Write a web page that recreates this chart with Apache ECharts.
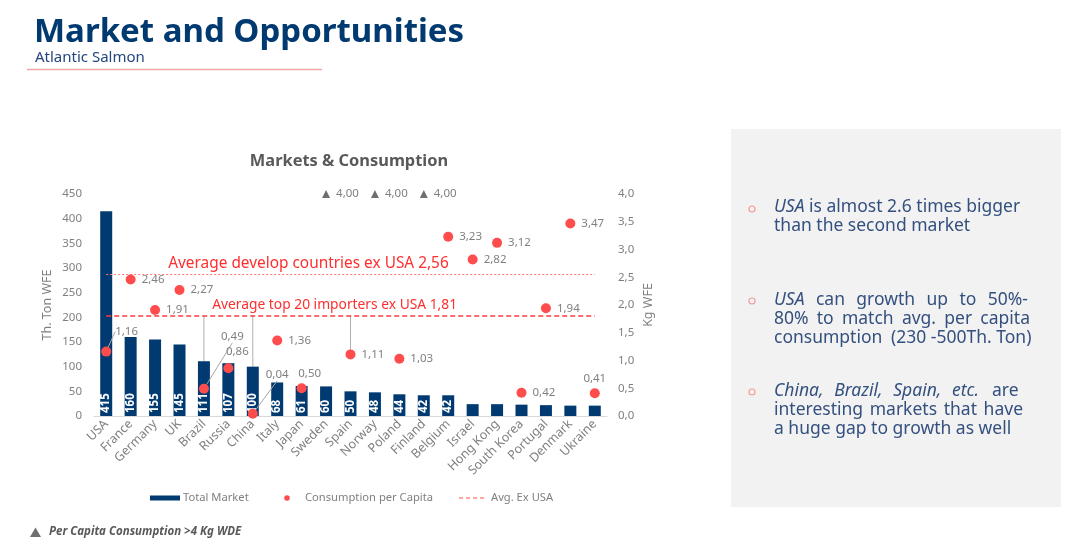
<!DOCTYPE html>
<html><head><meta charset="utf-8">
<script src="https://cdn.jsdelivr.net/npm/echarts@6/dist/echarts.min.js"></script>
<style>html,body{margin:0;padding:0;background:#fff}#c{width:1080px;height:549px}</style>
</head><body><div id="c"></div>
<script>
// ---- data ----
const categories = ['USA','France','Germany','UK','Brazil','Russia','China','Italy','Japan','Sweden','Spain','Norway','Poland','Finland','Belgium','Israel','Hong Kong','South Korea','Portugal','Denmark','Ukraine'];
const totalMarket = [415,160,155,145,111,107,100,68,61,60,50,48,44,42,42,24,24,23,22,21,21];
const perCapita = [1.16,2.46,1.91,2.27,0.49,0.86,0.04,1.36,0.50,4.00,1.11,4.00,1.03,4.00,3.23,2.82,3.12,0.42,1.94,3.47,0.41];
const capValue = 4.00;            // per capita > 4 kg shown as triangles at 4,00
const avgDeveloped = 2.56;
const avgTop20 = 1.81;
const leftAxis = {min: 0, max: 450, interval: 50};
const rightAxis = {min: 0, max: 4, interval: 0.5};
const guideCats = ['USA','Brazil','China','Spain'];   // grey guides down from the 1,81 line
const barLabelMin = 40;

// ---- styles ----
const FONT = 'Noto Sans';
const NAVY = '#003a70';
const RED = '#ff4d4d';
const GREY = '#808080';
const labelTweaks = {
  'USA':    {layout: {dx: -2, dy: -20}, line: true},
  'Brazil': {layout: {dx: 6, dy: -52}, line: true},
  'China':  {layout: {dx: 2, dy: -39}, line: true},
  'Russia': {pos: 'top', layout: {dx: 9, dy: -2}},
  'Japan': {pos: 'top', layout: {dx: 8, dy: 0}},
  'Ukraine': {pos: 'top'}
};
const fmt2 = v => v.toFixed(2).replace('.', ',');

const dotData = perCapita.map((v, i) => {
  if (v >= capValue) return '-';
  const t = labelTweaks[categories[i]] || {};
  const item = {value: v, label: {position: t.pos || 'right', distance: t.pos === 'top' ? 4 : 6}};
  if (t.line) item.labelLine = {show: true, lineStyle: {color: '#a6a6a6', width: 1}};
  return item;
});
const triData = perCapita.map(v => v >= capValue ? v : '-');
const guideData = guideCats.map(c => { const i = categories.indexOf(c); return [i, avgTop20, perCapita[i]]; });
const last = categories.length - 1;

// ---- right panel text with justification ----
const mctx = document.createElement('canvas').getContext('2d');
const PANEL_FONT = {size: 17.5, family: FONT, color: '#34507f'};
function fontStr(it) { return (it ? 'italic ' : '') + PANEL_FONT.size + 'px "' + PANEL_FONT.family + '"'; }
function lineElems(words, x, y, width, justify) {
  const ws = words.map(([t, it]) => { mctx.font = fontStr(it); return mctx.measureText(t).width; });
  mctx.font = fontStr(false);
  const sp = mctx.measureText(' ').width;
  const tot = ws.reduce((a, b) => a + b, 0);
  let gap = (justify && words.length > 1) ? (width - tot) / (words.length - 1) : sp;
  if (gap < sp * 0.6) gap = sp * 0.6;
  let cx = x; const out = [];
  words.forEach(([t, it], k) => {
    out.push({type: 'text', x: cx, y: y, silent: true,
      style: {text: t, fill: PANEL_FONT.color, fontSize: PANEL_FONT.size, fontFamily: PANEL_FONT.family,
        fontStyle: it ? 'italic' : 'normal', textAlign: 'left', textVerticalAlign: 'middle'}});
    cx += ws[k] + gap;
  });
  return out;
}
function W(s, it) { return s.split(' ').filter(Boolean).map(t => [t, !!it]); }
const panelLines = [
  {y: 207, words: [...W('USA', 1), ...W('is almost 2.6 times bigger')], j: false},
  {y: 226, words: W('than the second market'), j: false},
  {y: 300, words: [...W('USA', 1), ...W('can growth up to 50%-')], j: true, w: 254},
  {y: 319, words: W('80% to match avg. per capita'), j: true, w: 256},
  {y: 338, words: W('consumption'), j: false},
  {y: 338, x: 891, words: W('(230 -500Th. Ton)'), j: false},
  {y: 391, words: W('China, Brazil, Spain, etc.', 1), j: true, w: 205},
  {y: 391, x: 992, words: W('are'), j: false},
  {y: 410, words: W('interesting markets that have'), j: true, w: 249},
  {y: 429, words: W('a huge gap to growth as well'), j: false}
];
const panelElems = [];
panelLines.forEach(l => panelElems.push(...lineElems(l.words, l.x || 774, l.y, l.w || 0, l.j)));
[209, 301, 392].forEach(y => panelElems.push({type: 'circle', shape: {cx: 752, cy: y, r: 3}, silent: true,
  style: {fill: 'none', stroke: '#f49a9a', lineWidth: 1.2}}));

const graphics = [
  {type: 'text', x: 34, y: 33, style: {text: 'Market and Opportunities', fill: NAVY, fontSize: 33, fontWeight: 'bold', fontFamily: FONT, textVerticalAlign: 'middle'}},
  {type: 'text', x: 35, y: 58, style: {text: 'Atlantic Salmon', fill: '#25457e', fontSize: 15, fontFamily: FONT, textVerticalAlign: 'middle'}},
  {type: 'line', shape: {x1: 27, y1: 69.5, x2: 322, y2: 69.5}, style: {stroke: '#f4a6a6', lineWidth: 1.5}},
  {type: 'text', x: 349, y: 161, style: {text: 'Markets & Consumption', fill: '#595959', fontSize: 16.4, fontWeight: 'bold', fontFamily: FONT, textAlign: 'center', textVerticalAlign: 'middle'}},
  // legend
  {type: 'rect', shape: {x: 150, y: 495.5, width: 30, height: 5}, style: {fill: NAVY}},
  {type: 'text', x: 183, y: 498, style: {text: 'Total Market', fill: GREY, fontSize: 11.2, fontFamily: FONT, textVerticalAlign: 'middle'}},
  {type: 'circle', shape: {cx: 287, cy: 498, r: 2.8}, style: {fill: RED}},
  {type: 'text', x: 305, y: 498, style: {text: 'Consumption per Capita', fill: GREY, fontSize: 11.2, fontFamily: FONT, textVerticalAlign: 'middle'}},
  {type: 'line', shape: {x1: 459, y1: 498, x2: 487, y2: 498}, style: {stroke: RED, lineWidth: 1.2, lineDash: [4, 3]}},
  {type: 'text', x: 491, y: 498, style: {text: 'Avg. Ex USA', fill: GREY, fontSize: 11.2, fontFamily: FONT, textVerticalAlign: 'middle'}},
  // footnote
  {type: 'polygon', shape: {points: [[30, 537], [35.5, 527.5], [41, 537]]}, style: {fill: '#6f6f6f'}},
  {type: 'text', x: 49, y: 532, style: {text: 'Per Capita Consumption >4 Kg WDE', fill: '#595959', fontSize: 11.5, fontStyle: 'italic', fontWeight: 'bold', fontFamily: FONT, textVerticalAlign: 'middle'}},
  // panel
  {type: 'rect', z: -10, shape: {x: 731, y: 129, width: 330, height: 378}, style: {fill: '#f2f2f2'}},
  ...panelElems
];

function avgSeries(name, value, color, dash, width, text, dist, size) {
  return {name: name, type: 'line', yAxisIndex: 1, data: [], silent: true,
    markLine: {silent: true, symbol: 'none', animation: false,
      lineStyle: {color: color, width: width, type: dash},
      label: {show: true, position: 'insideStartTop', distance: dist, formatter: text,
        color: '#ff2e2e', fontSize: size, fontFamily: FONT},
      data: [[{coord: [0, value]}, {coord: [last, value]}]]}};
}

const chart = echarts.init(document.getElementById('c'), null, {renderer: 'canvas'});
chart.setOption({
  animation: false,
  textStyle: {fontFamily: FONT},
  grid: {left: 94, right: 473, top: 194, bottom: 133},
  xAxis: {type: 'category', data: categories,
    axisLine: {lineStyle: {color: '#d9d9d9'}}, axisTick: {show: false},
    axisLabel: {rotate: 45, interval: 0, color: GREY, fontSize: 12.5, margin: 6}},
  yAxis: [
    {type: 'value', ...leftAxis, splitLine: {show: false}, axisLine: {show: false}, axisTick: {show: false},
      axisLabel: {color: GREY, fontSize: 11.5, margin: 12},
      name: 'Th. Ton WFE', nameLocation: 'middle', nameGap: 40, nameRotate: 90, nameTextStyle: {color: GREY, fontSize: 12.5}},
    {type: 'value', ...rightAxis, position: 'right', splitLine: {show: false}, axisLine: {show: false}, axisTick: {show: false},
      axisLabel: {color: GREY, fontSize: 11.5, margin: 11, formatter: v => v.toFixed(1).replace('.', ',')},
      name: 'Kg WFE', nameLocation: 'middle', nameGap: 35, nameRotate: 90, nameTextStyle: {color: GREY, fontSize: 12.5}}
  ],
  series: [
    {name: 'Total Market', type: 'bar', data: totalMarket, barWidth: 12,
      itemStyle: {color: NAVY},
      label: {show: true, position: 'insideBottom', rotate: 90, align: 'left', verticalAlign: 'middle', distance: 3,
        color: '#fff', fontSize: 11.5, fontWeight: 'bold', formatter: p => p.value >= barLabelMin ? p.value : ''}},
    avgSeries('avgDev', avgDeveloped, '#ff7a7a', [2, 2], 1.2, 'Average develop countries ex USA ' + fmt2(avgDeveloped), [62, 3], 15.4),
    avgSeries('avgTop', avgTop20, '#ff3a3a', [5, 3], 1.6, 'Average top 20 importers ex USA ' + fmt2(avgTop20), [106, 3], 13.8),
    {name: 'guides', type: 'custom', yAxisIndex: 1, data: guideData, silent: true, z: 2,
      renderItem: (params, api) => {
        const a = api.coord([api.value(0), api.value(1)]);
        const b = api.coord([api.value(0), api.value(2)]);
        return {type: 'line', shape: {x1: a[0], y1: a[1], x2: b[0], y2: b[1]}, style: {stroke: '#b0b0b0', lineWidth: 1}};
      }},
    {name: 'Consumption per Capita', type: 'scatter', yAxisIndex: 1, data: dotData, symbolSize: 10, z: 5,
      itemStyle: {color: RED, opacity: 1},
      label: {show: true, color: GREY, fontSize: 11.5, formatter: p => fmt2(p.value)},
      labelLayout: p => { const t = labelTweaks[categories[p.dataIndex]]; return t && t.layout ? t.layout : {}; }},
    {name: 'Capped', type: 'scatter', yAxisIndex: 1, data: triData, symbol: 'triangle', symbolSize: 8,
      itemStyle: {color: '#6f6f6f', opacity: 1},
      label: {show: true, position: 'right', distance: 6, color: GREY, fontSize: 11.5, formatter: p => fmt2(p.value)}}
  ],
  graphic: graphics
});
</script></body></html>
